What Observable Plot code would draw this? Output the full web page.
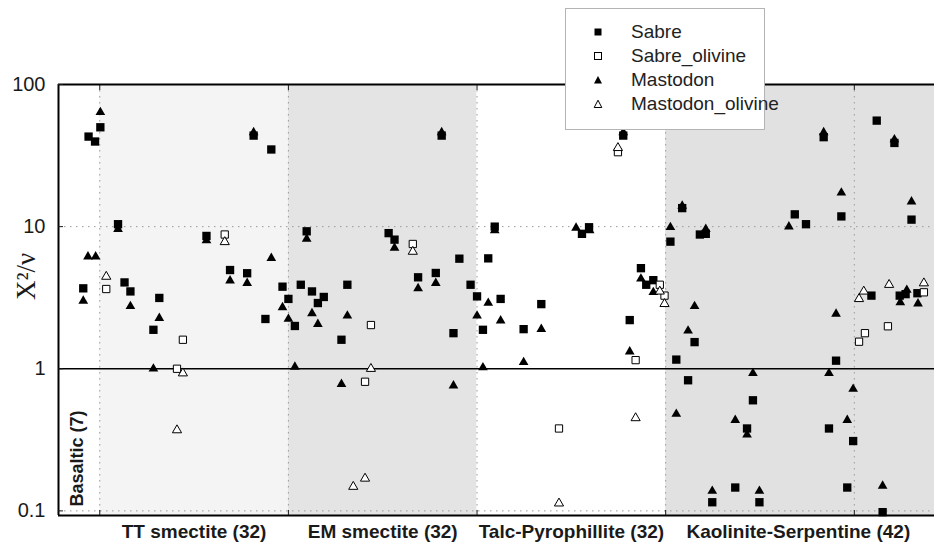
<!DOCTYPE html>
<html>
<head>
<meta charset="utf-8">
<script src="https://cdn.jsdelivr.net/npm/d3@7"></script>
<script src="https://cdn.jsdelivr.net/npm/@observablehq/plot@0.6"></script>
<style>
  body { margin: 0; background: #fff; }
  #wrap { position: relative; width: 934px; height: 545px; font-family: "Liberation Sans", Arial, sans-serif; }
  #legend { position: absolute; left: 565px; top: 8px; width: 200px; height: 122px; border: 1px solid #b4b4b4; background: #fff; box-sizing: border-box; }
  .row { position: absolute; left: 0; height: 24px; display: flex; align-items: center; font-size: 19px; color: #222; }
  .row svg { margin-left: 27px; margin-right: 28px; }
</style>
</head>
<body>
<div id="wrap"></div>
<script>
// ---- data ----
const categories = ["Basaltic", "TT smectite", "EM smectite", "Talc-Pyrophillite", "Kaolinite-Serpentine"];
const counts = [7, 32, 32, 32, 42];
const bandFill = ["#ffffff", "#f4f4f4", "#e4e4e4", "#ffffff", "#e1e1e1"];
const gridX = [7, 39, 71, 103, 135];
const labelX = [23, 55, 87, 125.5];
const yTicks = [0.1, 1, 10, 100];
const seriesNames = ["Sabre", "Sabre_olivine", "Mastodon", "Mastodon_olivine"];

const sabreX = [5.1, 6.2, 7.1, 4.2, 10.1, 11.2, 12.2, 16.1, 17.1, 25.1, 29.1, 32.0, 33.1, 36.1, 35.1, 38.0, 39.0, 40.1, 41.1, 42.1, 43.0, 44.0, 45.0, 48.0, 49.0, 56.0, 57.0, 61.0, 64.0, 65.0, 67.0, 68.0, 69.9, 71.0, 72.0, 72.9, 74.0, 75.0, 78.9, 81.9, 88.8, 90.0, 95.8, 96.9, 98.8, 99.7, 100.9, 103.8, 104.8, 105.8, 106.8, 107.9, 108.8, 109.8, 110.9, 114.8, 116.8, 117.8, 118.9, 124.9, 126.8, 129.8, 130.7, 131.9, 132.8, 133.8, 134.8, 137.9, 138.8, 139.8, 141.8, 142.7, 143.7, 144.7, 145.7];
const sabreY = [43, 39.7, 50, 3.68, 10.4, 4.05, 3.5, 1.88, 3.15, 8.6, 4.95, 4.7, 43.7, 34.9, 2.24, 3.78, 3.1, 2.0, 3.9, 9.27, 3.5, 2.9, 3.2, 1.6, 3.9, 9.0, 8.1, 4.4, 4.72, 43.7, 1.78, 5.95, 3.9, 3.23, 1.88, 5.98, 10.0, 3.1, 1.9, 2.85, 8.9, 9.9, 43.7, 2.2, 5.1, 3.9, 4.2, 7.84, 1.16, 13.5, 0.83, 1.54, 8.8, 8.9, 0.115, 0.146, 0.38, 0.6, 0.115, 12.2, 10.4, 42.6, 0.38, 1.14, 11.8, 0.146, 0.31, 3.27, 55.7, 0.098, 38.8, 3.27, 3.35, 11.2, 3.4];

const sabreOlX = [8.1, 20.1, 21.1, 28.2, 52.0, 53.0, 60.1, 84.9, 94.9, 97.9, 102.0, 102.8, 135.8, 136.8, 140.7, 146.8];
const sabreOlY = [3.64, 1.0, 1.6, 8.8, 0.81, 2.03, 7.55, 0.38, 33.4, 1.15, 3.9, 3.27, 1.55, 1.78, 1.99, 3.45];

const mastX = [7.1, 5.0, 6.3, 4.2, 10.1, 12.2, 16.1, 17.1, 25.1, 29.1, 32.0, 33.1, 36.1, 38.0, 39.0, 40.1, 42.1, 43.0, 44.0, 48.0, 49.0, 57.0, 61.0, 64.0, 65.0, 67.0, 71.0, 72.0, 72.9, 74.0, 75.0, 78.9, 81.9, 87.8, 90.1, 95.8, 96.9, 98.8, 100.9, 103.8, 104.8, 105.8, 106.8, 107.9, 109.8, 110.9, 114.8, 116.8, 117.8, 118.9, 123.9, 129.8, 130.7, 131.9, 132.8, 133.8, 134.8, 139.8, 141.8, 142.8, 143.9, 144.7, 145.8];
const mastY = [63.8, 6.15, 6.15, 3.0, 9.6, 2.75, 1.0, 2.27, 8.0, 4.17, 4.0, 46, 6.0, 2.7, 2.24, 1.03, 8.2, 2.45, 2.06, 0.78, 2.36, 7.08, 3.68, 4.0, 46, 0.76, 2.36, 1.02, 2.9, 9.4, 2.18, 1.11, 1.9, 9.8, 9.4, 46, 1.32, 4.3, 3.45, 9.9, 0.48, 14, 1.85, 2.75, 9.6, 0.138, 0.435, 0.343, 0.93, 0.138, 10.0, 46, 0.93, 2.43, 17.3, 0.435, 0.72, 0.15, 41, 2.93, 3.58, 15, 2.87];

const mastOlX = [8.1, 20.1, 21.1, 28.2, 50.0, 52.0, 53.0, 60.1, 84.9, 94.9, 97.9, 102.0, 102.8, 135.8, 136.6, 140.9, 146.8];
const mastOlY = [4.45, 0.37, 0.93, 7.8, 0.148, 0.169, 1.0, 6.67, 0.113, 35.8, 0.45, 3.5, 2.86, 3.1, 3.5, 3.9, 4.0];

// ---- derived tables ----
const xDomain = [0, 148.6];
const yDomain = [0.0928, 100];
const starts = counts.map((c, i) => d3.sum(counts.slice(0, i)));
const bands = categories.map((c, i) => ({
  x1: starts[i],
  x2: i === categories.length - 1 ? xDomain[1] : starts[i] + counts[i],
  fill: bandFill[i]
}));
const rows = (xs, ys) => xs.map((x, i) => ({x, y: ys[i]}));
const tickLabels = new Map(labelX.map((x, i) => [x, `${categories[i + 1]} (${counts[i + 1]})`]));
const basaltic = [{x: starts[0] + counts[0] / 2, label: `${categories[0]} (${counts[0]})`}];

const styles = [
  {symbol: d3.symbolSquare, r: 4.7, fill: "black", stroke: "none"},
  {symbol: d3.symbolSquare, r: 4.1, fill: "white", stroke: "black"},
  {symbol: d3.symbolTriangle, r: 3.6, fill: "black", stroke: "none"},
  {symbol: d3.symbolTriangle, r: 3.4, fill: "white", stroke: "black"}
];
const series = [rows(sabreX, sabreY), rows(sabreOlX, sabreOlY), rows(mastX, mastY), rows(mastOlX, mastOlY)];

const chart = Plot.plot({
  width: 934,
  height: 545,
  marginLeft: 58,
  marginRight: 0,
  marginTop: 84,
  marginBottom: 30,
  x: {domain: xDomain},
  y: {type: "log", domain: yDomain},
  color: {type: "identity"},
  style: {fontFamily: "'Liberation Sans', Arial, sans-serif", background: "transparent", color: "#1a1a1a"},
  marks: [
    Plot.rect(bands, {x1: "x1", x2: "x2", fill: "fill"}),
    Plot.ruleX(gridX, {stroke: "#9a9a9a", strokeWidth: 1, strokeDasharray: "1.5,4.5"}),
    Plot.ruleY(yTicks.filter(d => d !== 1), {stroke: "#9a9a9a", strokeWidth: 1, strokeDasharray: "1.5,4.5"}),
    Plot.ruleY([1], {stroke: "black", strokeWidth: 1.6}),
    ...series.map((data, i) => Plot.dot(data, {
      x: "x", y: "y",
      symbol: styles[i].symbol, r: styles[i].r,
      fill: styles[i].fill, stroke: styles[i].stroke, strokeWidth: 1
    })),
    Plot.ruleX([xDomain[0]], {stroke: "black", strokeWidth: 2}),
    Plot.ruleY(yDomain, {stroke: "black", strokeWidth: 2}),
    Plot.axisY({ticks: yTicks, tickFormat: d => String(d), tickSize: -5, tickPadding: 18, fontSize: 20, label: null}),
    Plot.axisX({ticks: gridX, tickSize: -5, tickFormat: () => "", label: null}),
    Plot.axisX({anchor: "top", ticks: gridX, tickSize: -5, tickFormat: () => "", label: null}),
    Plot.axisX({ticks: labelX, tickFormat: d => tickLabels.get(d), tickSize: 0, tickPadding: 9, fontSize: 19, fontWeight: "bold", label: null}),
    Plot.text(basaltic, {x: "x", text: "label", frameAnchor: "bottom", rotate: -90, textAnchor: "start", dy: -9, dx: 4, fontSize: 18, fontWeight: "bold", fill: "#1a1a1a"}),
    Plot.text(["X²/ν"], {frameAnchor: "left", rotate: -90, dx: -32, fontSize: 27, fontFamily: "'Liberation Serif', 'DejaVu Serif', serif", fill: "#1a1a1a"})
  ]
});

const wrap = document.getElementById("wrap");
wrap.appendChild(chart);

// ---- legend overlay ----
const legend = document.createElement("div");
legend.id = "legend";
const markerSvg = [
  '<svg width="10" height="10"><rect x="1.5" y="1.5" width="7" height="7" fill="black"/></svg>',
  '<svg width="10" height="10"><rect x="1.5" y="1.5" width="7" height="7" fill="white" stroke="black" stroke-width="1"/></svg>',
  '<svg width="10" height="10"><path d="M5,1L9,8.5L1,8.5Z" fill="black"/></svg>',
  '<svg width="10" height="10"><path d="M5,1.2L8.8,8.5L1.2,8.5Z" fill="white" stroke="black" stroke-width="1"/></svg>'
];
seriesNames.forEach((name, i) => {
  const row = document.createElement("div");
  row.className = "row";
  row.style.top = (11 + i * 24) + "px";
  row.innerHTML = markerSvg[i] + "<span>" + name + "</span>";
  legend.appendChild(row);
});
wrap.appendChild(legend);
</script>
</body>
</html>
